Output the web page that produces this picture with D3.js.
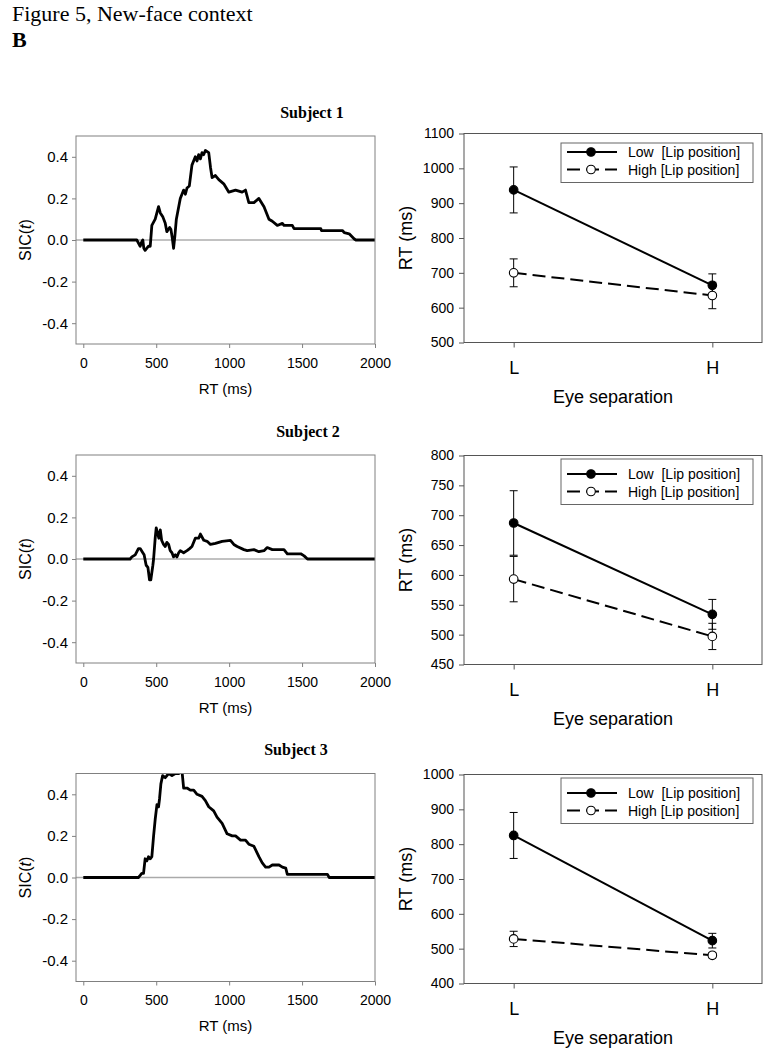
<!DOCTYPE html>
<html><head><meta charset="utf-8">
<script src="https://cdn.jsdelivr.net/npm/d3@7"></script>
<style>
body{margin:0;background:#fff;}
svg{display:block;}
text{font-family:"Liberation Sans",Arial,sans-serif;fill:#000;}
.serif{font-family:"Liberation Serif","Times New Roman",serif;}
</style></head><body><svg id="c" width="771" height="1050"></svg>
<script>
// ---------- DATA ----------
const subjects = ["Subject 1", "Subject 2", "Subject 3"];
const sicTicks = [-0.4, -0.2, 0, 0.2, 0.4];
const sicTickLabels = ["-0.4", "-0.2", "0.0", "0.2", "0.4"];
const rtAxisTicks = [0, 500, 1000, 1500, 2000];

const sicTimes1 = [0,367,390,400,408,415,424,447,459,470,493,516,528,546,562,573,592,601,610,619,628,638,665,688,700,711,727,745,768,780,791,803,814,825,837,860,872,883,906,929,963,998,1044,1089,1112,1135,1170,1204,1239,1273,1296,1330,1365,1376,1433,1445,1628,1633,1778,1789,1823,1858,1869,2000];
const sicValues1 = [0,0,-0.03,-0.01,0.0,-0.04,-0.05,-0.03,-0.03,0.07,0.1,0.16,0.13,0.11,0.08,0.04,0.06,0.05,0.01,-0.04,0.02,0.1,0.2,0.24,0.22,0.25,0.26,0.36,0.4,0.38,0.41,0.39,0.42,0.41,0.43,0.42,0.35,0.3,0.31,0.29,0.27,0.23,0.24,0.23,0.24,0.18,0.18,0.2,0.16,0.1,0.09,0.07,0.08,0.07,0.07,0.055,0.055,0.045,0.045,0.035,0.03,0.005,0,0];

const sicTimes2 = [0,321,333,356,378,390,408,417,431,443,454,463,477,482,493,500,511,518,528,537,550,562,573,585,596,608,619,631,642,654,665,688,711,729,745,768,791,803,826,849,872,906,952,1009,1032,1055,1101,1124,1170,1204,1239,1261,1296,1376,1399,1491,1514,1537,2000];
const sicValues2 = [0,0,0.01,0.02,0.05,0.05,0.03,0.02,-0.03,-0.04,-0.1,-0.1,-0.03,0.0,0.1,0.15,0.12,0.1,0.14,0.09,0.07,0.06,0.08,0.07,0.04,0.03,0.01,0.02,0.01,0.03,0.04,0.03,0.04,0.05,0.06,0.1,0.1,0.12,0.09,0.085,0.07,0.075,0.085,0.09,0.07,0.06,0.045,0.04,0.045,0.035,0.04,0.055,0.045,0.045,0.025,0.025,0.015,0,0];

const sicTimes3 = [0,378,390,401,413,424,436,447,459,470,482,493,505,516,523,532,544,562,585,608,631,654,677,688,711,734,757,780,814,837,860,894,917,952,986,1021,1044,1078,1112,1135,1170,1204,1227,1250,1273,1296,1342,1365,1388,1399,1674,1686,2000];
const sicValues3 = [0,0,0.01,0.02,0.02,0.09,0.08,0.1,0.09,0.1,0.2,0.28,0.35,0.34,0.38,0.45,0.49,0.48,0.5,0.49,0.5,0.5,0.51,0.43,0.43,0.42,0.42,0.4,0.39,0.37,0.34,0.32,0.29,0.26,0.21,0.2,0.2,0.18,0.18,0.16,0.15,0.1,0.07,0.05,0.05,0.06,0.06,0.05,0.045,0.015,0.015,0,0];

const eyeSeparation = ["L", "H"];
const lipLabels = ["Low  [Lip position]", "High [Lip position]"];

const rtLow1 = [938, 664],  errLow1 = [66, 33],  rtHigh1 = [700, 635], errHigh1 = [40, 38];
const rtLow2 = [687, 534],  errLow2 = [54, 25],  rtHigh2 = [593, 497], errHigh2 = [38, 22];
const rtLow3 = [825, 523],  errLow3 = [66, 21],  rtHigh3 = [528, 481], errHigh3 = [22, 7];

const rtTicks1 = [500, 600, 700, 800, 900, 1000, 1100];
const rtTicks2 = [450, 500, 550, 600, 650, 700, 750, 800];
const rtTicks3 = [400, 500, 600, 700, 800, 900, 1000];

// ---------- LAYOUT ----------
const sicPanels = [
  {times: sicTimes1, values: sicValues1, top: 136, titleX: 312},
  {times: sicTimes2, values: sicValues2, top: 455, titleX: 308},
  {times: sicTimes3, values: sicValues3, top: 773.5, titleX: 296}
];
const rtPanels = [
  {low: rtLow1, lowErr: errLow1, high: rtHigh1, highErr: errHigh1, ticks: rtTicks1, top: 133.5, legTop: 9.5},
  {low: rtLow2, lowErr: errLow2, high: rtHigh2, highErr: errHigh2, ticks: rtTicks2, top: 455.5, legTop: 3.5},
  {low: rtLow3, lowErr: errLow3, high: rtHigh3, highErr: errHigh3, ticks: rtTicks3, top: 774.5, legTop: 3.5}
];

const svg = d3.select("#c");
svg.append("rect").attr("width", 771).attr("height", 1050).attr("fill", "#fff");
svg.append("text").attr("class", "serif").attr("x", 12).attr("y", 20.5)
  .attr("font-size", 22).text("Figure 5, New-face context");
svg.append("text").attr("class", "serif").attr("x", 12).attr("y", 46.5)
  .attr("font-size", 22).attr("font-weight", "bold").text("B");

const defs = svg.append("defs");

// ---------- LEFT: SIC panels ----------
const L0 = 76, L1 = 375, LH = 208;
sicPanels.forEach((p, i) => {
  const g = svg.append("g");
  const x = d3.scaleLinear().domain([-50, 2000]).range([L0, L1]);
  const y = d3.scaleLinear().domain([-0.5, 0.5]).range([p.top + LH, p.top]);

  defs.append("clipPath").attr("id", "clip" + i).append("rect")
    .attr("x", L0).attr("y", p.top).attr("width", L1 - L0).attr("height", LH);

  // zero line
  g.append("line").attr("x1", L0).attr("x2", L1).attr("y1", y(0)).attr("y2", y(0))
    .attr("stroke", i === 2 ? "#aaa" : "#777").attr("stroke-width", i === 2 ? 1.6 : 0.9);

  // curve
  const pts = p.times.map((t, k) => [t, p.values[k]]);
  g.append("path").datum(pts)
    .attr("clip-path", "url(#clip" + i + ")")
    .attr("fill", "none").attr("stroke", "#000").attr("stroke-width", 2.8)
    .attr("stroke-linejoin", "round")
    .attr("d", d3.line().x(d => x(d[0])).y(d => y(d[1])));

  // frame
  g.append("rect").attr("x", L0).attr("y", p.top).attr("width", L1 - L0).attr("height", LH)
    .attr("fill", "none").attr("stroke", "#808080").attr("stroke-width", 1);

  // axes
  const ya = g.append("g").attr("transform", `translate(${L0},0)`)
    .call(d3.axisLeft(y).tickValues(sicTicks).tickFormat((d, j) => sicTickLabels[j]).tickSize(4).tickPadding(4));
  const xa = g.append("g").attr("transform", `translate(0,${p.top + LH})`)
    .call(d3.axisBottom(x).tickValues(rtAxisTicks).tickFormat(d3.format("d")).tickSize(4).tickPadding(10));
  [ya, xa].forEach(a => {
    a.select(".domain").remove();
    a.selectAll("line").attr("stroke", "#808080");
    a.selectAll("text").attr("font-family", '"Liberation Sans",Arial,sans-serif').attr("fill", "#000");
  });
  ya.selectAll("text").attr("font-size", 15);
  xa.selectAll("text").attr("font-size", 14);

  // labels
  g.append("text").attr("class", "serif").attr("x", p.titleX).attr("y", p.top - 18.5)
    .attr("text-anchor", "middle").attr("font-size", 16).attr("font-weight", "bold").text(subjects[i]);
  g.append("text").attr("x", (L0 + L1) / 2).attr("y", p.top + LH + 49.5)
    .attr("text-anchor", "middle").attr("font-size", 15).text("RT (ms)");
  const yl = g.append("text").attr("transform", `translate(30.5,${y(0)}) rotate(-90)`)
    .attr("text-anchor", "middle").attr("font-size", 16);
  yl.append("tspan").text("SIC(");
  yl.append("tspan").attr("font-style", "italic").text("t");
  yl.append("tspan").text(")");
});

// ---------- RIGHT: RT panels ----------
const R0 = 464, R1 = 762, RH = 209;
rtPanels.forEach((p, i) => {
  const g = svg.append("g");
  const x = d3.scaleLinear().domain([-0.25, 1.25]).range([R0, R1]);
  const y = d3.scaleLinear().domain([p.ticks[0], p.ticks[p.ticks.length - 1]]).range([p.top + RH, p.top]);

  g.append("rect").attr("x", R0).attr("y", p.top).attr("width", R1 - R0).attr("height", RH)
    .attr("fill", "none").attr("stroke", "#555").attr("stroke-width", 1);

  const ya = g.append("g").attr("transform", `translate(${R0},0)`)
    .call(d3.axisLeft(y).tickValues(p.ticks).tickFormat(d3.format("d")).tickSize(5).tickPadding(5));
  const xa = g.append("g").attr("transform", `translate(0,${p.top + RH})`)
    .call(d3.axisBottom(x).tickValues([0, 1]).tickFormat((d, j) => eyeSeparation[j]).tickSize(5).tickPadding(13.5));
  [ya, xa].forEach(a => {
    a.select(".domain").remove();
    a.selectAll("line").attr("stroke", "#555");
    a.selectAll("text").attr("font-family", '"Liberation Sans",Arial,sans-serif').attr("fill", "#000");
  });
  ya.selectAll("text").attr("font-size", 14);
  xa.selectAll("text").attr("font-size", 18);

  const series = [
    {vals: p.low, errs: p.lowErr, dash: null, fill: "#000"},
    {vals: p.high, errs: p.highErr, dash: "13,6", fill: "#fff"}
  ];
  // error bars
  series.forEach(s => {
    s.vals.forEach((v, j) => {
      const cx = x(j), e = s.errs[j];
      g.append("line").attr("x1", cx).attr("x2", cx).attr("y1", y(v - e)).attr("y2", y(v + e))
        .attr("stroke", "#000").attr("stroke-width", 1);
      [v - e, v + e].forEach(ev => g.append("line").attr("x1", cx - 4).attr("x2", cx + 4)
        .attr("y1", y(ev)).attr("y2", y(ev)).attr("stroke", "#000").attr("stroke-width", 1));
    });
  });
  // lines
  series.forEach(s => {
    g.append("path").datum(s.vals).attr("fill", "none").attr("stroke", "#000").attr("stroke-width", 2)
      .attr("stroke-dasharray", s.dash)
      .attr("d", d3.line().x((d, j) => x(j)).y(d => y(d)));
  });
  // markers
  series.forEach(s => {
    g.selectAll(null).data(s.vals).enter().append("circle")
      .attr("cx", (d, j) => x(j)).attr("cy", d => y(d)).attr("r", 4.3)
      .attr("fill", s.fill).attr("stroke", "#000").attr("stroke-width", 1.1);
  });

  // legend
  const lg = g.append("g");
  lg.append("rect").attr("x", 561).attr("y", p.top + p.legTop).attr("width", 192).attr("height", 49 - p.legTop)
    .attr("fill", "#fff").attr("stroke", "#666").attr("stroke-width", 1);
  [18.5, 36].forEach((dy, k) => {
    const yy = p.top + dy;
    lg.append("line").attr("x1", 567).attr("x2", 617).attr("y1", yy).attr("y2", yy)
      .attr("stroke", "#000").attr("stroke-width", 2).attr("stroke-dasharray", series[k].dash);
    lg.append("circle").attr("cx", 591).attr("cy", yy).attr("r", 4.3)
      .attr("fill", series[k].fill).attr("stroke", "#000").attr("stroke-width", 1.1);
    lg.append("text").attr("x", 628).attr("y", yy).attr("dy", "0.36em").attr("font-size", 14)
      .attr("xml:space", "preserve").style("white-space", "pre").text(lipLabels[k]);
  });

  // axis titles
  g.append("text").attr("transform", `translate(411.5,${p.top + RH / 2}) rotate(-90)`)
    .attr("text-anchor", "middle").attr("font-size", 18).text("RT (ms)");
  g.append("text").attr("x", (R0 + R1) / 2).attr("y", p.top + RH + 60)
    .attr("text-anchor", "middle").attr("font-size", 18).text("Eye separation");
});
</script></body></html>
